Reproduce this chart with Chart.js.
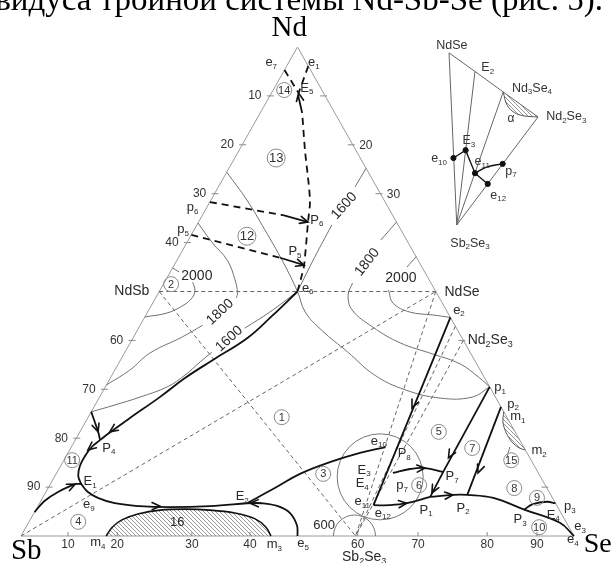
<!DOCTYPE html>
<html>
<head>
<meta charset="utf-8">
<script src="https://cdn.jsdelivr.net/npm/chart.js@4.4.1/dist/chart.umd.min.js"></script>
<style>
  html, body { margin: 0; padding: 0; background: #fff; }
  #wrap { width: 614px; height: 563px; position: relative; }
</style>
</head>
<body>
<div id="wrap"><canvas id="diagram"></canvas></div>
<script>
// All compositions are [Se, Nd] in at.%, Sb is the rest.
const SANS = '"Liberation Sans", Arial, sans-serif';
const SERIF = '"Liberation Serif", "Times New Roman", serif';

const caption = 'ликвидуса тройной системы Nd-Sb-Se (рис. 5).';

const triangleEdge = [[0, 0], [100, 0], [0, 100], [0, 0]];
const Sb2Se3 = [60.5, 0];

// thin dashed tie lines
const tieLines = [
  [[0, 50], [50, 50]],          // NdSb - NdSe
  [[0, 50], Sb2Se3],            // NdSb - Sb2Se3
  [[0, 0], [50, 50]],           // Sb - NdSe
  [[50, 50], Sb2Se3],           // NdSe - Sb2Se3
  [[57.1, 42.9], Sb2Se3],       // Nd3Se4 - Sb2Se3
  [[60, 40], Sb2Se3]            // Nd2Se3 - Sb2Se3
];

// isotherms and thin boundaries (broken where the label sits)
const iso2000LeftA = [[0, 54.8], [1.6, 54.0]];
const iso2000LeftB = [[5.1, 51.9], [6.3, 50.3], [6.6, 48.7], [5.6, 47.0], [3.6, 45.6], [0, 44.8]];
const iso1800LeftA = [[0, 64], [4.7, 59.9], [9.1, 56.4], [12.5, 52.4], [14.3, 49.7], [14.6, 48.7]];
const iso1800LeftB = [[11.3, 43.1], [8.8, 40.7], [4.6, 37.4], [2.7, 33.9], [0, 30.9]];
const iso1600LeftA = [[25, 50], [22.1, 45.8], [19.2, 42.5]];
const iso1600LeftB = [[15.7, 37.6], [14.6, 35.6], [13.2, 32.9], [11.2, 30.5], [7.3, 28.4], [3.6, 26.8], [0, 25.4]];
const iso1600RightA = [[24.8, 75.2], [24.7, 71.4]];
const iso1600RightB = [[24.4, 63.6], [24.6, 56.9], [25, 50]];
const iso1800RightA = [[35.8, 64.2], [34.8, 60.5]];
const iso1800RightB = [[34.1, 51.7], [34.5, 49.3], [36.8, 46.2], [42.3, 42.7], [48.8, 39.5], [55.9, 37.2], [61.8, 35.2], [66.8, 32.3], [69.5, 30.5]];
const iso2000RightA = [[42.9, 57.1], [42.3, 55.0]];
const iso2000RightB = [[41.3, 50.3], [43.5, 47.6], [47.4, 45.8], [51.9, 45.2], [55.3, 44.7]];
const border13 = [[0, 74.4], [6.5, 68.7], [12.8, 62.6], [19.4, 56.0], [25, 50], [28.5, 45.8], [33.3, 42.1], [40.3, 37.6], [47.5, 32.9], [54.5, 29.9], [61.7, 28.2], [67.4, 28.4], [69.5, 30.5]];
const leader15 = [[79.3, 18.2], [79.8, 16.2]];

// bold monovariant lines
const e6toP4 = [[25, 50], [22.9, 45.0], [20.7, 40.5], [16.7, 36.0], [13.5, 32.3], [10.9, 28.4], [7.6, 24.1], [5.3, 20.9], [4.5, 19.6]];
const edgeToP4 = [[0, 25.4], [1.7, 23.3], [3.3, 21.3], [4.5, 19.6]];
const P4toE1 = [[4.5, 19.6], [3.7, 18.2], [3.4, 16.4], [3.5, 14.3], [4.2, 12.3], [5.6, 10.6]];
const edgeToE1 = [[0, 4.9], [0.7, 7.2], [2.2, 9.0], [4.5, 10.6], [5.6, 10.6]];
const E1toE2 = [[5.6, 10.6], [7.6, 9.0], [10.0, 7.8], [13.6, 6.7], [18.4, 6.1], [23.9, 5.9], [31.1, 6.1], [37.5, 6.7]];
const e5toE2 = [[50, 0], [48.8, 2.2], [46.3, 4.7], [43.4, 6.1], [40.2, 6.7], [37.5, 6.7]];
const E2toe10 = [[37.5, 6.7], [41.0, 9.8], [44.1, 12.7], [48.3, 15.1], [52.8, 17.0], [56.8, 18.2]];
const e2toE3 = [[55.3, 44.7], [60.6, 6.3]];
const p7toP7 = [[60.8, 12.9], [63.5, 13.7], [66.1, 13.9], [69.8, 13.1]];
const E3toP1 = [[60.6, 6.3], [63.5, 6.3], [66.4, 6.7], [70.0, 8.0]];
const P1toe4 = [[70.0, 8.0], [73.9, 8.4], [76.5, 8.4], [81.5, 7.8], [88.3, 5.4], [96.1, 2.7], [100, 0]];
const p1toP1 = [[69.5, 30.5], [69.8, 13.1], [70.0, 8.0]];
const p2toP2 = [[73.6, 26.4], [76.5, 8.4]];
const P3top3 = [[88.3, 5.4], [89.3, 6.5], [91.6, 7.0], [93.3, 6.7]];

// bold dashed lines (solid near the arrow tip)
const e6toE5 = [[25, 50], [24.1, 53.4], [23.5, 55.4], [19.8, 64.2], [17.9, 68.7], [11.9, 78.9], [7.6, 86.5]];
const e6toE5End = [[7.6, 86.5], [5.0, 90.2]];
const p6toP6 = [[0, 68.3], [14.6, 65.6]];
const p6toP6End = [[14.6, 65.6], [19.8, 64.2]];
const p5toP5 = [[0, 61.6], [18.4, 56.9]];
const p5toP5End = [[18.4, 56.9], [23.5, 55.4]];
const e7toE5 = [[0, 95.3], [4.9, 90.6]];
const e1toE5 = [[3.9, 96.1], [4.9, 90.6]];

// hatched fields
const field16 = [[15.4, 0], [15.6, 1.8], [16.6, 3.3], [18.9, 4.5], [22.5, 5.3], [26.9, 5.5], [31.5, 5.3], [36.3, 4.7], [40.6, 3.5], [43.4, 1.8], [45.2, 0]];
const field15 = [[74.6, 25.4], [75.5, 23.3], [77.2, 21.1], [79.2, 19.2], [81.1, 18.0], [82.4, 17.6]];

// arrows: [tip, point behind it]
const arrows = [
  [[5.4, 21.3], [7.6, 24.1]],
  [[3.3, 21.3], [1.7, 23.3]],
  [[3.3, 17.6], [4.5, 19.6]],
  [[4.5, 10.6], [2.2, 9.0]],
  [[22.1, 6.1], [18.4, 6.1]],
  [[38.1, 6.7], [40.2, 6.7]],
  [[57.6, 26.2], [56.8, 34.4]],
  [[66.1, 13.9], [63.5, 13.7]],
  [[66.4, 6.7], [63.5, 6.3]],
  [[73.9, 8.4], [70.0, 8.0]],
  [[69.3, 16.0], [69.5, 30.5]],
  [[69.9, 8.8], [69.8, 13.1]],
  [[76.2, 12.9], [73.9, 26.1]],
  [[4.9, 90.6], [7.6, 86.5]],
  [[19.8, 64.2], [14.6, 65.6]],
  [[23.5, 55.4], [18.4, 56.9]]
];

// circled phase-field numbers
const fieldNumbers = [1, 2, 3, 4, 5, 6, 7, 8, 9, 10, 11, 12, 13, 14, 15];
const fieldAt = [[35.0, 24.3], [1.4, 51.5], [48.3, 12.7], [8.9, 2.9], [64.9, 21.3], [66.8, 10.4], [72.6, 18.0], [84.3, 9.8], [89.4, 7.8], [92.8, 1.8], [1.5, 15.5], [10.2, 61.3], [7.5, 77.3], [2.0, 91.2], [80.9, 15.5]];

const regionCircle = [58.9, 12.1];
const arc600 = [60.3, 0];

// tick labels
const sideTicks = [10, 20, 30, 40, 60, 70, 80, 90];
const rightTicks = [10, 20, 30, 60, 90];
const rightTickLabels = [20, 30];
const bottomTicks = [10, 20, 30, 40, 60, 70, 80, 90];
const bottomTickAt = [8.5, 17.4, 30.9, 41.4, 60.9, 71.8, 84.3, 93.3];

// point labels
const pointLabels = ['e_7', 'e_1', 'E_5', 'P_6', 'P_5', 'e_6', 'p_6', 'p_5', 'P_4', 'E_1', 'e_9', 'E_2', 'm_4', 'm_3', 'e_5',
  'e_10', 'P_8', 'E_3', 'E_4', 'p_7', 'e_11', 'e_12', 'P_1', 'P_7', 'P_2', 'P_3', 'E_4', 'p_1', 'p_2', 'm_1', 'm_2',
  'p_3', 'e_3', 'e_4', 'e_2', '600', '16'];
const pointLabelAt = [[-3.2, 96.9], [4.5, 96.9], [5.9, 91.6], [21.2, 64.6], [20.5, 58.1], [26.5, 50.7], [-2.5, 67.1], [-2.0, 62.6],
  [6.9, 18.0], [6.9, 11.2], [9.0, 6.5], [36.0, 8.0], [14.6, -1.4], [46.7, -1.8], [51.8, -1.6],
  [55.0, 19.4], [60.9, 16.8], [55.3, 13.5], [56.3, 10.8], [63.7, 10.4], [58.2, 7.0], [63.1, 4.7], [70.6, 5.3], [71.9, 12.1],
  [77.1, 5.7], [88.6, 3.3], [94.1, 4.3], [71.5, 30.3], [75.5, 27.0], [77.6, 24.5], [85.0, 17.4],
  [96.2, 6.1], [100.1, 2.0], [100.2, -0.8], [56.1, 46.2], [53.7, 2.2], [26.9, 2.7]];

const compoundLabels = ['NdSb', 'NdSe', 'Nd_2Se_3', 'Sb_2Se_3'];
const compoundAt = [[-5.0, 50.1], [54.8, 49.9], [64.8, 40.1], [64.2, -4.3]];

const isoLabels = ['2000', '1800', '1600', '1600', '1800', '2000'];
const isoAt = [[5.2, 53.2], [13.1, 45.8], [17.5, 40.3], [24.7, 67.5], [34.6, 56.0], [42.3, 52.8]];
const isoAngle = [0, -43, -42, -48, -52, 0];

const vertexLabels = ['Nd', 'Sb', 'Se'];
const vertexAt = [[-3.4, 103.8], [2.5, -3.1], [105.2, -1.8]];

// inset sketch, in plane units (x along the base, y height)
const insetTop = [[77.4, 98.8], [82.1, 95.0], [87.2, 90.8], [93.5, 85.7]];
const insetBase = [78.8, 63.6];
const insetAlpha = [[87.2, 90.8], [87.9, 88.1], [89.2, 86.6], [91.0, 85.9], [93.5, 85.7]];
const insetPath = [[78.2, 77.3], [80.4, 78.9], [82.1, 74.2], [84.4, 72.0]];
const insetArc = [[82.1, 74.2], [84.3, 75.5], [87.1, 76.1]];
const insetDots = [[78.2, 77.3], [80.4, 78.9], [82.1, 74.2], [87.1, 76.1], [84.4, 72.0]];
const insetLabels = ['NdSe', 'E_2', 'Nd_3Se_4', 'Nd_2Se_3', 'α', 'E_3', 'e_10', 'e_11', 'p_7', 'e_12', 'Sb_2Se_3'];
const insetLabelAt = [[77.9, 100.2], [84.4, 95.7], [92.4, 91.6], [98.6, 85.7], [88.6, 85.3], [81.0, 80.8], [75.6, 77.1], [83.4, 76.5], [88.6, 74.6], [86.3, 69.7], [81.2, 59.9]];

// ---------------------------------------------------------------

function toXY(p) {
  return { x: p[0] + p[1] / 2, y: p[1] };
}

function plain(p) {
  return { x: p[0], y: p[1] };
}

function makeHatch() {
  const c = document.createElement('canvas');
  c.width = 4;
  c.height = 4;
  const g = c.getContext('2d');
  g.strokeStyle = '#6a6a6a';
  g.lineWidth = 0.7;
  g.beginPath();
  g.moveTo(-1, -1); g.lineTo(5, 5);
  g.moveTo(3, -1); g.lineTo(5, 1);
  g.moveTo(-1, 3); g.lineTo(1, 5);
  g.stroke();
  return g.createPattern(c, 'repeat');
}
const hatch = makeHatch();

function curve(points, opts, map) {
  return Object.assign({
    data: points.map(map || toXY),
    borderColor: '#707070',
    borderWidth: 1,
    pointRadius: 0,
    tension: 0.4,
    fill: false,
    clip: false
  }, opts);
}

const BOLD = { borderColor: '#111', borderWidth: 1.8 };
const BOLD_DASH = { borderColor: '#111', borderWidth: 1.8, borderDash: [7, 5], tension: 0.3 };

const datasets = [];

// dots and circles on top
datasets.push({
  data: fieldAt.map(toXY), showLine: false, clip: false,
  pointRadius: fieldNumbers.map(n => (n === 12 || n === 13) ? 9 : 7.5),
  pointBackgroundColor: 'rgba(255,255,255,0)', pointBorderColor: '#8a8a8a', pointBorderWidth: 1
});
datasets.push({
  data: insetDots.map(plain), showLine: false, clip: false,
  pointRadius: 2.6, pointBackgroundColor: '#111', pointBorderColor: '#111'
});

// bold lines
[e6toP4, edgeToP4, P4toE1, edgeToE1, E1toE2, e5toE2, E2toe10, p7toP7, E3toP1, P1toe4, P3top3]
  .forEach(c => datasets.push(curve(c, BOLD)));
[e2toE3, p1toP1, p2toP2, e6toE5End, p6toP6End, p5toP5End]
  .forEach(c => datasets.push(curve(c, Object.assign({}, BOLD, { tension: 0 }))));
datasets.push(curve(e6toE5, BOLD_DASH));
[p6toP6, p5toP5, e7toE5, e1toE5].forEach(c => datasets.push(curve(c, Object.assign({}, BOLD_DASH, { tension: 0 }))));

// inset bold path
datasets.push(curve(insetPath, { borderColor: '#111', borderWidth: 1.4, tension: 0 }, plain));
datasets.push(curve(insetArc, { borderColor: '#111', borderWidth: 1.4, tension: 0.4 }, plain));

// hatched fields
datasets.push(curve(field16, { borderColor: '#111', borderWidth: 1.6, fill: 'origin', backgroundColor: hatch, tension: 0.35 }));
datasets.push(curve(field15, { borderColor: '#555', borderWidth: 1, fill: 'shape', backgroundColor: hatch, tension: 0.35 }));
datasets.push(curve(insetAlpha, { borderColor: '#555', borderWidth: 1, fill: 'shape', backgroundColor: hatch, tension: 0.35 }, plain));

// isotherms and thin boundaries
[iso2000LeftA, iso2000LeftB, iso1800LeftA, iso1800LeftB, iso1600LeftA, iso1600LeftB,
 iso1600RightA, iso1600RightB, iso1800RightA, iso1800RightB, iso2000RightA, iso2000RightB, border13, leader15]
  .forEach(c => datasets.push(curve(c, {})));

// big circle and 600 arc
datasets.push({
  data: [toXY(regionCircle)], showLine: false, clip: false,
  pointRadius: 43, pointBackgroundColor: 'rgba(255,255,255,0)', pointBorderColor: '#777', pointBorderWidth: 1
});
datasets.push({
  data: [toXY(arc600)], showLine: false, clip: 0,
  pointRadius: 21, pointBackgroundColor: 'rgba(255,255,255,0)', pointBorderColor: '#777', pointBorderWidth: 1
});

// inset thin lines
datasets.push(curve(insetTop, { borderColor: '#666', tension: 0 }, plain));
insetTop.forEach(p => datasets.push(curve([p, insetBase], { borderColor: '#666', tension: 0 }, plain)));

// tie lines
tieLines.forEach(t => datasets.push(curve(t, { borderColor: '#666', borderDash: [4, 3], tension: 0 })));

// triangle
datasets.push(curve(triangleEdge, { borderColor: '#9a9a9a', tension: 0 }));

// ---------------------------------------------------------------

function drawText(ctx, text, x, y, size, opts) {
  opts = opts || {};
  const family = opts.family || SANS;
  const subSize = Math.round(size * 0.62);
  const parts = text.split(/_(\d+)/);
  let w = 0;
  const segs = parts.map((t, i) => {
    const sub = i % 2 === 1;
    ctx.font = (sub ? subSize : size) + 'px ' + family;
    const sw = ctx.measureText(t).width;
    w += sw;
    return { t, sub, sw };
  });
  ctx.save();
  ctx.translate(x, y);
  if (opts.rotate) ctx.rotate(opts.rotate * Math.PI / 180);
  ctx.fillStyle = opts.color || '#2a2a2a';
  ctx.textBaseline = 'middle';
  ctx.textAlign = 'left';
  let cx = -w / 2;
  segs.forEach(s => {
    ctx.font = (s.sub ? subSize : size) + 'px ' + family;
    ctx.fillText(s.t, cx, s.sub ? size * 0.32 : 0);
    cx += s.sw;
  });
  ctx.restore();
}

const overlay = {
  id: 'overlay',
  afterDatasetsDraw(chart) {
    const ctx = chart.ctx;
    const sx = chart.scales.x, sy = chart.scales.y;
    const P = p => ({ x: sx.getPixelForValue(p[0] + p[1] / 2), y: sy.getPixelForValue(p[1]) });
    const Q = p => ({ x: sx.getPixelForValue(p[0]), y: sy.getPixelForValue(p[1]) });

    // caption line cut at the top
    ctx.save();
    ctx.font = '33px ' + SERIF;
    ctx.fillStyle = '#000';
    ctx.textAlign = 'right';
    ctx.textBaseline = 'alphabetic';
    ctx.fillText(caption, 603, 10);
    ctx.restore();

    // ticks
    ctx.save();
    ctx.strokeStyle = '#8a8a8a';
    ctx.lineWidth = 1;
    ctx.beginPath();
    sideTicks.forEach(s => {
      const a = P([0, 100 - s]);
      ctx.moveTo(a.x - 3, a.y); ctx.lineTo(a.x + 4, a.y);
    });
    rightTicks.forEach(s => {
      const a = P([s, 100 - s]);
      ctx.moveTo(a.x - 5, a.y); ctx.lineTo(a.x + 2, a.y);
    });
    bottomTickAt.forEach(s => {
      const a = P([s, 0]);
      ctx.moveTo(a.x, a.y); ctx.lineTo(a.x, a.y - 4);
    });
    ctx.stroke();
    ctx.restore();

    sideTicks.forEach(s => {
      const a = P([0, 100 - s]);
      drawText(ctx, String(s), a.x - 15, a.y, 12, { color: '#333' });
    });
    rightTickLabels.forEach(s => {
      const a = P([s, 100 - s]);
      drawText(ctx, String(s), a.x + 13, a.y + 1, 12, { color: '#333' });
    });
    bottomTicks.forEach((s, i) => {
      const a = P([bottomTickAt[i], 0]);
      drawText(ctx, String(s), a.x, a.y + 9, 12, { color: '#333' });
    });

    // arrows
    ctx.save();
    ctx.strokeStyle = '#111';
    ctx.lineWidth = 1.6;
    ctx.lineCap = 'round';
    ctx.beginPath();
    arrows.forEach(([tip, from]) => {
      const t = P(tip), f = P(from);
      const dx = t.x - f.x, dy = t.y - f.y, L = Math.hypot(dx, dy) || 1;
      const ux = dx / L, uy = dy / L;
      const bx = t.x - ux * 8, by = t.y - uy * 8;
      ctx.moveTo(bx - uy * 3.6, by + ux * 3.6);
      ctx.lineTo(t.x, t.y);
      ctx.lineTo(bx + uy * 3.6, by - ux * 3.6);
    });
    ctx.stroke();
    ctx.restore();

    // field numbers
    fieldNumbers.forEach((n, i) => {
      const a = P(fieldAt[i]);
      const big = n === 12 || n === 13;
      drawText(ctx, String(n), a.x, a.y + 0.5, big ? 13 : 11, { color: '#333' });
    });

    pointLabels.forEach((t, i) => {
      const a = P(pointLabelAt[i]);
      drawText(ctx, t, a.x, a.y, 13);
    });
    compoundLabels.forEach((t, i) => {
      const a = P(compoundAt[i]);
      drawText(ctx, t, a.x, a.y, 14);
    });
    isoLabels.forEach((t, i) => {
      const a = P(isoAt[i]);
      drawText(ctx, t, a.x, a.y, 14, { rotate: isoAngle[i] });
    });
    vertexLabels.forEach((t, i) => {
      const a = P(vertexAt[i]);
      drawText(ctx, t, a.x, a.y, t === 'Se' ? 28 : 29, { family: SERIF, color: '#000' });
    });
    insetLabels.forEach((t, i) => {
      const a = Q(insetLabelAt[i]);
      drawText(ctx, t, a.x, a.y, t === 'α' ? 12 : 12.5, { color: '#333' });
    });
  }
};

new Chart(document.getElementById('diagram'), {
  type: 'line',
  data: { datasets: datasets },
  options: {
    responsive: true,
    maintainAspectRatio: false,
    animation: false,
    events: [],
    layout: { autoPadding: false, padding: { left: 21, right: 40, top: 47, bottom: 27 } },
    scales: {
      x: { type: 'linear', min: 0, max: 100, display: false },
      y: { type: 'linear', min: 0, max: 100, display: false }
    },
    plugins: { legend: { display: false }, tooltip: { enabled: false } }
  },
  plugins: [overlay]
});
</script>
</body>
</html>
